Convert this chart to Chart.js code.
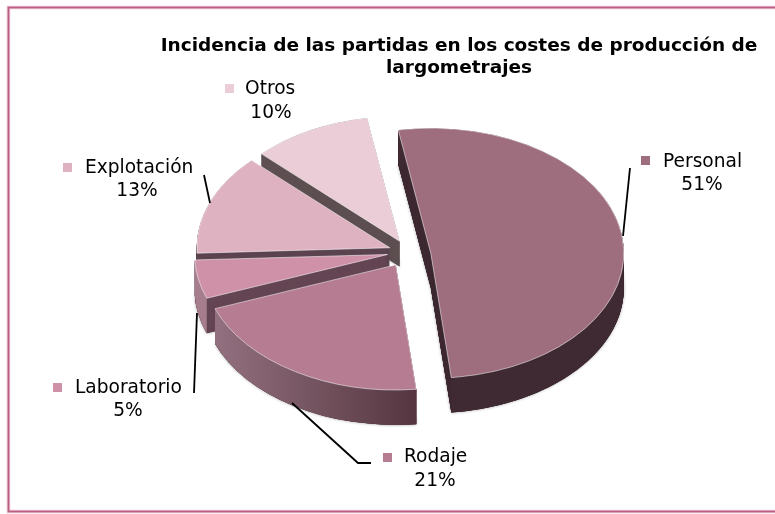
<!DOCTYPE html>
<html><head><meta charset="utf-8">
<style>html,body{margin:0;padding:0;background:#fff}#w{position:absolute;left:0;top:0;width:775px;height:514px;overflow:hidden}</style>
<script src="https://cdn.jsdelivr.net/npm/chart.js@4"></script></head>
<body><div id="w"><canvas id="c" width="775" height="514"></canvas></div>
<script>
const categories = ['Personal','Rodaje','Laboratorio','Explotación','Otros'];
const values = [51,21,5,13,10];
const percentLabels = ['51%','21%','5%','13%','10%'];
const titleLines = ['Incidencia de las partidas en los costes de producción de','largometrajes'];
const topColors = ['#9e6d7e','#b67c91','#cf91a7','#dfb2c2','#eacdd6'];
const wallColors = ['#3f2a33','#553640','#654654','#5c4450','#5e5052'];
const rimColors = ['#3f2a33',null,'#a67d8d','#5c4450','#5e5052'];
const explosion = [20,27,27,27,31];
const nudgeX = [-2,-3,1,2,1];
const nudgeY = [-1,-6,-5,-2,3];
const depths = [54,54,54,45,39];
const labelBoxes = [
 {mx:641,my:156,tx:663,ty:162,px:702,py:185},
 {mx:383,my:453,tx:404,ty:457,px:435,py:481},
 {mx:53,my:383,tx:75,ty:388,px:128,py:411},
 {mx:63,my:163,tx:85,ty:168,px:137,py:191},
 {mx:225,my:84,tx:245,ty:89,px:271,py:113}
];
const leaders = [
 [[630,168],[623,236]],
 [[292,403],[358,463],[371,463]],
 [[194,393],[197,313]],
 [[204,175],[210,203]]
];
const squash = 0.648, FONT = '"DejaVu Sans",Verdana,sans-serif';

function squashed(ctx,cx,cy){ctx.translate(cx,cy);ctx.scale(1,squash);ctx.translate(-cx,-cy);}
function vec(a,i){const m=(a.startAngle+a.endAngle)/2;return [Math.cos(m)*explosion[i]+nudgeX[i],Math.sin(m)*explosion[i]+nudgeY[i]/squash];}

const pie3d = {
 id:'pie3d',
 beforeDraw(chart){
  const c=chart.ctx;c.save();c.fillStyle='#fff';c.fillRect(0,0,775,514);
  c.strokeStyle='#e8bccb';c.lineWidth=3.4;c.strokeRect(8.5,7.5,790,504);
  c.strokeStyle='#bc5f84';c.lineWidth=1.6;c.strokeRect(8.5,7.5,790,504);c.restore();
 },
 beforeDatasetDraw(chart){
  const c=chart.ctx, arcs=chart.getDatasetMeta(0).data;
  const cx=arcs[0].x, cy=arcs[0].y;
  c.save();squashed(c,cx,cy);
  arcs.slice().reverse().forEach((a)=>{
   const i=arcs.indexOf(a),[dx,dy]=vec(a,i),r=a.outerRadius,depth=depths[i];
   const x=a.x+dx,y=a.y+dy;
   const wedge=(o)=>{c.beginPath();c.moveTo(x,y+o);c.arc(x,y+o,r,a.startAngle,a.endAngle);c.closePath();c.fill();};
   c.save();c.shadowColor='rgba(60,60,60,.55)';c.shadowBlur=3;c.fillStyle='#888';wedge(depth);c.restore();
   c.fillStyle=wallColors[i];
   for(let o=depth;o>0;o-=0.5)wedge(o);
   let rim=rimColors[i];
   if(!rim){
    const g=c.createLinearGradient(x+Math.cos(a.endAngle)*r,0,x+Math.cos(a.startAngle)*r,0);
    g.addColorStop(0,'#93707f');g.addColorStop(1,'#553640');rim=g;
   }
   c.fillStyle=rim;c.beginPath();c.arc(x,y,r,a.startAngle,a.endAngle);c.arc(x,y+depth,r,a.endAngle,a.startAngle,true);c.closePath();c.fill();
  });
  arcs.forEach((a,i)=>{const [dx,dy]=vec(a,i);c.save();c.translate(dx,dy);a.draw(c);c.restore();});
  c.restore();
  return false;
 },
 afterDraw(chart){
  const c=chart.ctx;c.save();
  c.strokeStyle='#000';c.lineWidth=1.8;
  leaders.forEach(l=>{c.beginPath();l.forEach((p,k)=>k?c.lineTo(p[0],p[1]):c.moveTo(p[0],p[1]));c.stroke();});
  c.textBaseline='middle';c.font='18.6px '+FONT;c.fillStyle='#000';
  labelBoxes.forEach((b,i)=>{
   c.fillStyle=topColors[i];c.fillRect(b.mx,b.my,9,9);
   c.fillStyle='#000';c.textAlign='left';c.fillText(categories[i],b.tx,b.ty);
   c.textAlign='center';c.fillText(percentLabels[i],b.px,b.py);
  });
  c.font='bold 18.5px '+FONT;c.textAlign='center';
  c.fillText(titleLines[0],459,46);c.fillText(titleLines[1],459,68);
  c.restore();
 }
};
new Chart(document.getElementById('c'),{
 type:'pie',
 data:{labels:categories,datasets:[{data:values,backgroundColor:topColors,borderColor:'rgba(255,255,255,.65)',borderWidth:1}]},
 options:{responsive:false,animation:false,rotation:-9.7,radius:193,
  layout:{padding:{left:51,right:0,top:0,bottom:2}},
  plugins:{legend:{display:false},title:{display:false},tooltip:{enabled:false}}},
 plugins:[pie3d]
});
</script></body></html>
